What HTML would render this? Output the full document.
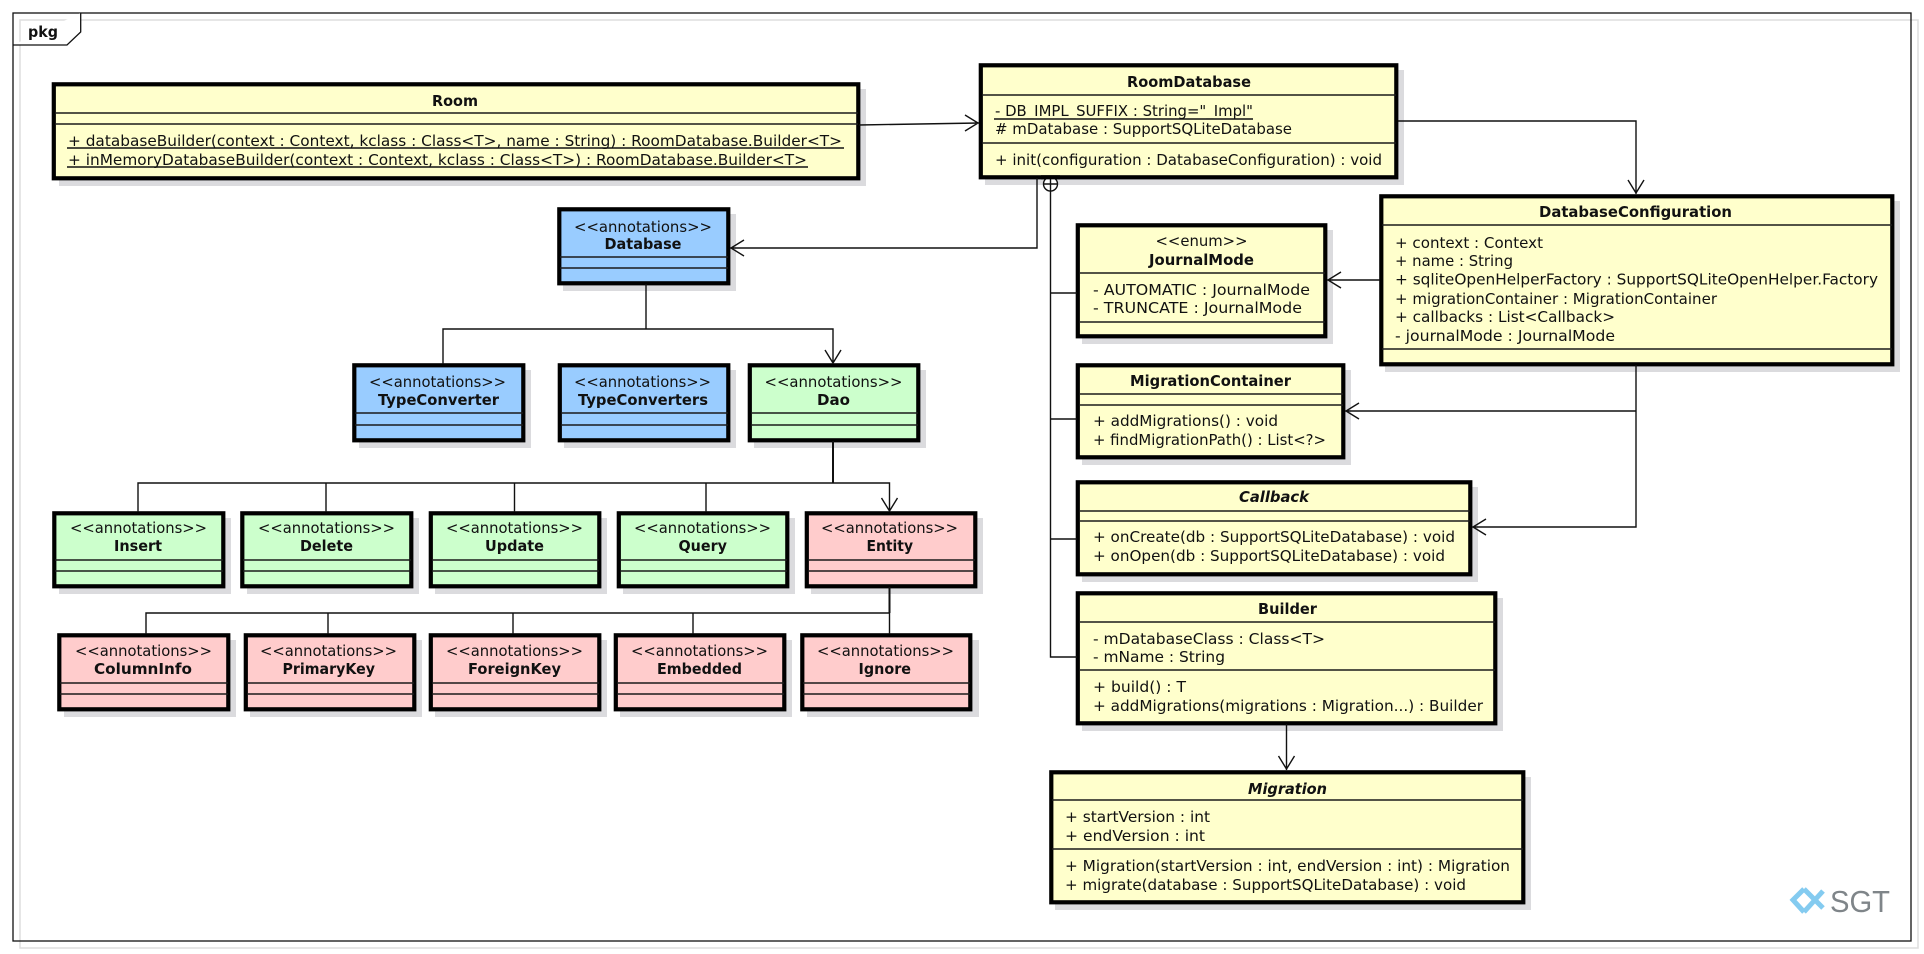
<!DOCTYPE html>
<html><head><meta charset="utf-8"><title>pkg</title>
<style>
html,body{margin:0;padding:0;background:#fff;width:1924px;height:954px;overflow:hidden}
svg{display:block}
text{font-family:"DejaVu Sans","Liberation Sans",sans-serif;font-size:15.5px;fill:#111}
.b{font-weight:bold;font-size:15px}
.i{font-style:italic}
.s{fill:#dbdbde}
.y{fill:#ffffcc}.u{fill:#99ccff}.g{fill:#ccffcc}.p{fill:#ffcccc}
.o{stroke:#000;stroke-width:4.2}
.l{stroke:#1a1a1a;stroke-width:1.5;fill:none}
.c{stroke:#111;stroke-width:1.4;fill:none}
</style></head><body>
<svg width="1924" height="954" viewBox="0 0 1924 954" xmlns="http://www.w3.org/2000/svg">
<rect x="20" y="20" width="1898" height="928" fill="none" stroke="#dedede" stroke-width="1.5"/>
<rect x="13" y="13" width="1898" height="928" fill="none" stroke="#111" stroke-width="1.3"/>
<path d="M13 45H67L80.7 32V13" fill="#fff" stroke="#111" stroke-width="1.3"/>
<text x="28" y="37" textLength="30" lengthAdjust="spacingAndGlyphs" class="b">pkg</text>

<!-- Room -->
<rect x="59" y="89" width="807" height="97" class="s"/>
<rect x="53.8" y="84.3" width="804.5" height="94" class="y o"/>
<path d="M55 113H858M55 124H858" class="l"/>
<text x="432" y="106" textLength="46" lengthAdjust="spacingAndGlyphs" class="b">Room</text>
<text x="68" y="146" textLength="774" lengthAdjust="spacingAndGlyphs">+ databaseBuilder(context : Context, kclass : Class&lt;T&gt;, name : String) : RoomDatabase.Builder&lt;T&gt;</text>
<text x="68" y="165" textLength="739" lengthAdjust="spacingAndGlyphs">+ inMemoryDatabaseBuilder(context : Context, kclass : Class&lt;T&gt;) : RoomDatabase.Builder&lt;T&gt;</text>
<path d="M67 148H844M67 167H808" class="c"/>

<!-- RoomDatabase -->
<rect x="985" y="70" width="419" height="115" class="s"/>
<rect x="980.8" y="65.3" width="415.5" height="112" class="y o"/>
<path d="M982 95H1396M982 143H1396" class="l"/>
<text x="1127" y="87" textLength="124" lengthAdjust="spacingAndGlyphs" class="b">RoomDatabase</text>
<text x="995" y="116" textLength="258" lengthAdjust="spacingAndGlyphs">- DB_IMPL_SUFFIX : String="_Impl"</text>
<path d="M994 119H1253" class="c"/>
<text x="995" y="134" textLength="297" lengthAdjust="spacingAndGlyphs"># mDatabase : SupportSQLiteDatabase</text>
<text x="995" y="165" textLength="387" lengthAdjust="spacingAndGlyphs">+ init(configuration : DatabaseConfiguration) : void</text>

<!-- DatabaseConfiguration -->
<rect x="1385" y="201" width="515" height="171" class="s"/>
<rect x="1381.3" y="196.3" width="511" height="168" class="y o"/>
<path d="M1382 225H1892M1382 349H1892" class="l"/>
<text x="1539" y="217" textLength="193" lengthAdjust="spacingAndGlyphs" class="b">DatabaseConfiguration</text>
<text x="1395" y="248" textLength="148" lengthAdjust="spacingAndGlyphs">+ context : Context</text>
<text x="1395" y="266" textLength="118" lengthAdjust="spacingAndGlyphs">+ name : String</text>
<text x="1395" y="284.5" textLength="483" lengthAdjust="spacingAndGlyphs">+ sqliteOpenHelperFactory : SupportSQLiteOpenHelper.Factory</text>
<text x="1395" y="304" textLength="322" lengthAdjust="spacingAndGlyphs">+ migrationContainer : MigrationContainer</text>
<text x="1395" y="322" textLength="220" lengthAdjust="spacingAndGlyphs">+ callbacks : List&lt;Callback&gt;</text>
<text x="1395" y="341" textLength="220" lengthAdjust="spacingAndGlyphs">- journalMode : JournalMode</text>

<!-- JournalMode -->
<rect x="1082" y="230" width="251" height="114" class="s"/>
<rect x="1077.8" y="225.3" width="247.5" height="111" class="y o"/>
<path d="M1079 273H1325M1079 322H1325" class="l"/>
<text x="1155.5" y="246" textLength="92" lengthAdjust="spacingAndGlyphs">&lt;&lt;enum&gt;&gt;</text>
<text x="1149" y="265" textLength="105" lengthAdjust="spacingAndGlyphs" class="b">JournalMode</text>
<text x="1093" y="295" textLength="217" lengthAdjust="spacingAndGlyphs">- AUTOMATIC : JournalMode</text>
<text x="1093" y="313" textLength="209" lengthAdjust="spacingAndGlyphs">- TRUNCATE : JournalMode</text>

<!-- MigrationContainer -->
<rect x="1082" y="370" width="269" height="95" class="s"/>
<rect x="1077.8" y="365.3" width="265.5" height="92" class="y o"/>
<path d="M1079 394H1343M1079 405H1343" class="l"/>
<text x="1130" y="386" textLength="161" lengthAdjust="spacingAndGlyphs" class="b">MigrationContainer</text>
<text x="1093" y="426" textLength="185" lengthAdjust="spacingAndGlyphs">+ addMigrations() : void</text>
<text x="1093" y="445" textLength="233" lengthAdjust="spacingAndGlyphs">+ findMigrationPath() : List&lt;?&gt;</text>

<!-- Callback -->
<rect x="1082" y="487" width="396" height="95" class="s"/>
<rect x="1077.8" y="482.3" width="392.5" height="92" class="y o"/>
<path d="M1079 511H1470M1079 521H1470" class="l"/>
<text x="1239" y="502" textLength="70" lengthAdjust="spacingAndGlyphs" class="b i">Callback</text>
<text x="1093" y="542" textLength="362" lengthAdjust="spacingAndGlyphs">+ onCreate(db : SupportSQLiteDatabase) : void</text>
<text x="1093" y="561" textLength="352" lengthAdjust="spacingAndGlyphs">+ onOpen(db : SupportSQLiteDatabase) : void</text>

<!-- Builder -->
<rect x="1082" y="598" width="421" height="133" class="s"/>
<rect x="1077.8" y="593.3" width="417.5" height="130" class="y o"/>
<path d="M1079 622H1495M1079 670H1495" class="l"/>
<text x="1258" y="614" textLength="59" lengthAdjust="spacingAndGlyphs" class="b">Builder</text>
<text x="1093" y="644" textLength="232" lengthAdjust="spacingAndGlyphs">- mDatabaseClass : Class&lt;T&gt;</text>
<text x="1093" y="662" textLength="132" lengthAdjust="spacingAndGlyphs">- mName : String</text>
<text x="1093" y="692" textLength="93" lengthAdjust="spacingAndGlyphs">+ build() : T</text>
<text x="1093" y="711" textLength="390" lengthAdjust="spacingAndGlyphs">+ addMigrations(migrations : Migration...) : Builder</text>

<!-- Migration -->
<rect x="1055" y="777" width="476" height="133" class="s"/>
<rect x="1051.3" y="772.3" width="472" height="130" class="y o"/>
<path d="M1052 800H1523M1052 849H1523" class="l"/>
<text x="1248" y="794" textLength="79" lengthAdjust="spacingAndGlyphs" class="b i">Migration</text>
<text x="1065" y="822" textLength="145" lengthAdjust="spacingAndGlyphs">+ startVersion : int</text>
<text x="1065" y="841" textLength="140" lengthAdjust="spacingAndGlyphs">+ endVersion : int</text>
<text x="1065" y="871" textLength="445" lengthAdjust="spacingAndGlyphs">+ Migration(startVersion : int, endVersion : int) : Migration</text>
<text x="1065" y="890" textLength="401" lengthAdjust="spacingAndGlyphs">+ migrate(database : SupportSQLiteDatabase) : void</text>

<!-- Annotation boxes -->
<rect x="563" y="214" width="173" height="77" class="s"/>
<rect x="559.3" y="209.3" width="169" height="74" class="u o"/>
<path d="M560 257H728M560 268H728" class="l"/>
<text x="574" y="232" textLength="138" lengthAdjust="spacingAndGlyphs">&lt;&lt;annotations&gt;&gt;</text>
<text x="604.5" y="249" textLength="77" lengthAdjust="spacingAndGlyphs" class="b">Database</text>

<rect x="359" y="370" width="172" height="78" class="s"/>
<rect x="354.3" y="365.3" width="169" height="75" class="u o"/>
<path d="M355 413H523M355 425H523" class="l"/>
<text x="369" y="387" textLength="137" lengthAdjust="spacingAndGlyphs">&lt;&lt;annotations&gt;&gt;</text>
<text x="378" y="405" textLength="121" lengthAdjust="spacingAndGlyphs" class="b">TypeConverter</text>

<rect x="564" y="370" width="172" height="78" class="s"/>
<rect x="559.8" y="365.3" width="168.5" height="75" class="u o"/>
<path d="M561 413H728M561 425H728" class="l"/>
<text x="574" y="387" textLength="137" lengthAdjust="spacingAndGlyphs">&lt;&lt;annotations&gt;&gt;</text>
<text x="578" y="405" textLength="130" lengthAdjust="spacingAndGlyphs" class="b">TypeConverters</text>

<rect x="754" y="370" width="172" height="78" class="s"/>
<rect x="749.8" y="365.3" width="168.5" height="75" class="g o"/>
<path d="M751 413H918M751 425H918" class="l"/>
<text x="764.5" y="387" textLength="138" lengthAdjust="spacingAndGlyphs">&lt;&lt;annotations&gt;&gt;</text>
<text x="817" y="405" textLength="33" lengthAdjust="spacingAndGlyphs" class="b">Dao</text>

<!-- row 2 -->
<g>
<rect x="59" y="518" width="172" height="76" class="s"/>
<rect x="54.3" y="513.3" width="169" height="73" class="g o"/>
<path d="M55 560H223M55 571H223" class="l"/>
<text x="70" y="533" textLength="137" lengthAdjust="spacingAndGlyphs">&lt;&lt;annotations&gt;&gt;</text>
<text x="114" y="551" textLength="48" lengthAdjust="spacingAndGlyphs" class="b">Insert</text>

<rect x="247" y="518" width="172" height="76" class="s"/>
<rect x="242.3" y="513.3" width="169" height="73" class="g o"/>
<path d="M243 560H411M243 571H411" class="l"/>
<text x="258" y="533" textLength="137" lengthAdjust="spacingAndGlyphs">&lt;&lt;annotations&gt;&gt;</text>
<text x="300" y="551" textLength="53" lengthAdjust="spacingAndGlyphs" class="b">Delete</text>

<rect x="435" y="518" width="172" height="76" class="s"/>
<rect x="430.8" y="513.3" width="168.5" height="73" class="g o"/>
<path d="M432 560H599M432 571H599" class="l"/>
<text x="446" y="533" textLength="137" lengthAdjust="spacingAndGlyphs">&lt;&lt;annotations&gt;&gt;</text>
<text x="485" y="551" textLength="59" lengthAdjust="spacingAndGlyphs" class="b">Update</text>

<rect x="623" y="518" width="172" height="76" class="s"/>
<rect x="618.8" y="513.3" width="168.5" height="73" class="g o"/>
<path d="M620 560H787M620 571H787" class="l"/>
<text x="634" y="533" textLength="137" lengthAdjust="spacingAndGlyphs">&lt;&lt;annotations&gt;&gt;</text>
<text x="678.5" y="551" textLength="48.5" lengthAdjust="spacingAndGlyphs" class="b">Query</text>

<rect x="811" y="518" width="172" height="76" class="s"/>
<rect x="806.8" y="513.3" width="168.5" height="73" class="p o"/>
<path d="M808 560H975M808 571H975" class="l"/>
<text x="821" y="533" textLength="137" lengthAdjust="spacingAndGlyphs">&lt;&lt;annotations&gt;&gt;</text>
<text x="866.5" y="551" textLength="46.5" lengthAdjust="spacingAndGlyphs" class="b">Entity</text>
</g>

<!-- row 3 -->
<g>
<rect x="64" y="640" width="172" height="77" class="s"/>
<rect x="59.3" y="635.3" width="169" height="74" class="p o"/>
<path d="M60 683H228M60 694H228" class="l"/>
<text x="75" y="656" textLength="137" lengthAdjust="spacingAndGlyphs">&lt;&lt;annotations&gt;&gt;</text>
<text x="94" y="674" textLength="98" lengthAdjust="spacingAndGlyphs" class="b">ColumnInfo</text>

<rect x="250" y="640" width="172" height="77" class="s"/>
<rect x="245.8" y="635.3" width="168.5" height="74" class="p o"/>
<path d="M247 683H414M247 694H414" class="l"/>
<text x="260" y="656" textLength="137" lengthAdjust="spacingAndGlyphs">&lt;&lt;annotations&gt;&gt;</text>
<text x="282.5" y="674" textLength="92.5" lengthAdjust="spacingAndGlyphs" class="b">PrimaryKey</text>

<rect x="435" y="640" width="172" height="77" class="s"/>
<rect x="430.8" y="635.3" width="168.5" height="74" class="p o"/>
<path d="M432 683H599M432 694H599" class="l"/>
<text x="446" y="656" textLength="137" lengthAdjust="spacingAndGlyphs">&lt;&lt;annotations&gt;&gt;</text>
<text x="468" y="674" textLength="93" lengthAdjust="spacingAndGlyphs" class="b">ForeignKey</text>

<rect x="620" y="640" width="172" height="77" class="s"/>
<rect x="615.8" y="635.3" width="168.5" height="74" class="p o"/>
<path d="M617 683H784M617 694H784" class="l"/>
<text x="631" y="656" textLength="137" lengthAdjust="spacingAndGlyphs">&lt;&lt;annotations&gt;&gt;</text>
<text x="657" y="674" textLength="85" lengthAdjust="spacingAndGlyphs" class="b">Embedded</text>

<rect x="807" y="640" width="172" height="77" class="s"/>
<rect x="802.3" y="635.3" width="168" height="74" class="p o"/>
<path d="M803 683H970M803 694H970" class="l"/>
<text x="817" y="656" textLength="137" lengthAdjust="spacingAndGlyphs">&lt;&lt;annotations&gt;&gt;</text>
<text x="858.5" y="674" textLength="52.5" lengthAdjust="spacingAndGlyphs" class="b">Ignore</text>
</g>

<!-- connectors -->
<g class="c">
<path d="M859 125L979 123M965 115L978 123L965 131"/>
<path d="M1398 121H1636V194M1628 180L1636 193L1644 180"/>
<path d="M1037 178V248H730M744 240L731 248L744 256"/>
<path d="M1050.5 191V657H1077M1050.5 293H1077M1050.5 419H1077M1050.5 539H1077"/>
<circle cx="1050.5" cy="184" r="7" fill="#fff"/>
<path d="M1043.5 184H1057.5M1050.5 177V191"/>
<path d="M1380 280H1327M1341 272L1328 280L1341 288"/>
<path d="M1636 365V527H1472M1636 411H1345M1359 403L1346 411L1359 419M1486 519L1473 527L1486 535"/>
<path d="M1286.5 724V770M1278.5 756L1286.5 769L1294.5 756"/>
<path d="M646 284V329M443 364V329H833V364M825 350L833 363L841 350"/>
<path d="M833 441V483" stroke-width="2"/>
<path d="M138 512V483H889.5V512M326 483V512M514.5 483V512M706 483V512M881.5 498L889.5 511L897.5 498"/>
<path d="M889.5 587V613" stroke-width="2"/>
<path d="M146 634V613H889.5V634M328 613V634M513 613V634M693 613V634"/>
</g>
<path d="M1041 177.3H1060" stroke="#000" stroke-width="4.2" fill="none"/>

<!-- logo -->
<g fill="none" stroke="#84cbf0" stroke-width="5">
<path d="M1804 889L1793 900L1804 912"/>
<path d="M1804 889L1823 908"/>
<path d="M1804 912L1823 891"/>
</g>
<text x="1830" y="912" textLength="60" lengthAdjust="spacingAndGlyphs" style="font-family:'Liberation Sans',sans-serif;font-size:31px;fill:#7f8589">SGT</text>
</svg>
</body></html>
